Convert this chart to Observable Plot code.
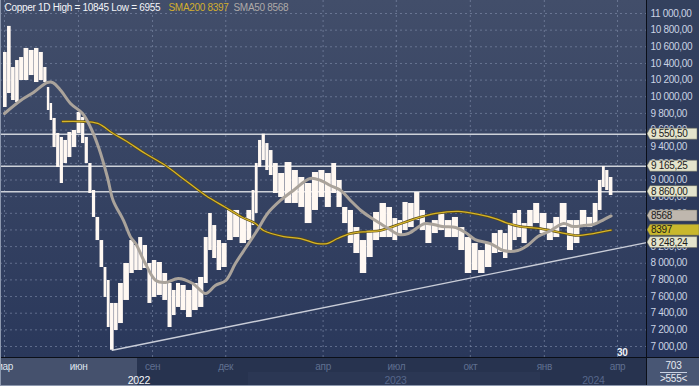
<!DOCTYPE html>
<html><head><meta charset="utf-8">
<script src="https://cdn.jsdelivr.net/npm/d3@7"></script>
<script src="https://cdn.jsdelivr.net/npm/@observablehq/plot@0.6"></script>
<style>
html,body{margin:0;padding:0;background:#2a3656;}
#wrap{position:relative;width:699px;height:386px;overflow:hidden;font-family:"Liberation Sans",Arial,sans-serif;}
.bg{position:absolute;}
#bgPlot{left:0;top:0;width:646px;height:357px;background:linear-gradient(#424e6a,#2a385b);}
#bgRight{left:646px;top:0;width:53px;height:357px;background:linear-gradient(#34415e,#26345a);}
#bgBottom{left:0;top:357px;width:646px;height:29px;background:#27334f;}
#bgYear{left:248px;top:372px;width:292px;height:14px;background:#2b3754;}
#bgHi{left:0;top:358px;width:137px;height:27px;background:#45516d;}
#bgBR{left:647px;top:358px;width:52px;height:28px;background:#485674;}
#sepV{left:646px;top:0;width:1px;height:386px;background:#0b0f18;}
#sepH{left:0;top:357px;width:699px;height:1px;background:#0b0f18;}
#brLine{left:660px;top:372px;width:27px;height:1px;background:#c9d1e2;}
#edgeL{left:0;top:0;width:1px;height:386px;background:#8d98ae;}
#edgeB{left:0;top:385px;width:699px;height:1px;background:#8d98ae;}
#chart{position:absolute;left:0;top:0;}
#chart svg text{letter-spacing:-0.3px;}
</style></head>
<body><div id="wrap">
<div class="bg" id="bgPlot"></div><div class="bg" id="bgRight"></div><div class="bg" id="bgBottom"></div>
<div class="bg" id="bgYear"></div><div class="bg" id="bgHi"></div><div class="bg" id="bgBR"></div>
<div id="chart"></div>
<div class="bg" id="sepV"></div><div class="bg" id="sepH"></div><div class="bg" id="brLine"></div>
<div class="bg" id="edgeL"></div><div class="bg" id="edgeB"></div>
</div>
<script>
// ---- price bars (high / low) ----
const barDates = ["2022-03-02","2022-03-07","2022-03-12","2022-03-17","2022-03-22","2022-03-28","2022-04-04","2022-04-10","2022-04-16","2022-04-21",
"2022-04-25","2022-04-28","2022-05-02","2022-05-07","2022-05-11","2022-05-16","2022-05-21","2022-05-27","2022-06-02","2022-06-07",
"2022-06-11","2022-06-16","2022-06-20","2022-06-25","2022-06-30","2022-07-05","2022-07-08","2022-07-13","2022-07-18","2022-07-23",
"2022-07-31","2022-08-07","2022-08-12","2022-08-17","2022-08-23","2022-08-29","2022-09-03","2022-09-10","2022-09-17","2022-09-23",
"2022-09-28","2022-10-03","2022-10-09","2022-10-17","2022-10-24","2022-11-01","2022-11-07","2022-11-12","2022-11-17","2022-11-23",
"2022-11-29","2022-12-07","2022-12-14","2022-12-23","2022-12-31","2023-01-05","2023-01-08","2023-01-13","2023-01-17","2023-01-22",
"2023-01-26","2023-02-01","2023-02-08","2023-02-17","2023-02-26","2023-03-05","2023-03-14","2023-03-23","2023-03-30","2023-04-08",
"2023-04-15","2023-04-21","2023-04-29","2023-05-05","2023-05-13","2023-05-21","2023-05-30","2023-06-06","2023-06-15","2023-06-23",
"2023-06-30","2023-07-06","2023-07-12","2023-07-20","2023-07-27","2023-08-03","2023-08-10","2023-08-19","2023-08-26","2023-09-04",
"2023-09-13","2023-09-20","2023-09-29","2023-10-07","2023-10-15","2023-10-24","2023-11-01","2023-11-08","2023-11-14","2023-11-20",
"2023-11-26","2023-12-01","2023-12-07","2023-12-15","2023-12-22","2023-12-31","2024-01-09","2024-01-16","2024-01-25","2024-02-03",
"2024-02-10","2024-02-19","2024-02-27","2024-03-05","2024-03-11","2024-03-15","2024-03-19","2024-03-24"];
const barHighs = [10532,10845,10351,10435,10471,10580,10556,10580,10532,10351,
10111,9919,9739,9559,9511,9475,9571,9595,9811,9751,
9511,9198,8874,8550,8273,7949,7793,7517,7517,7757,
7997,8273,8213,8309,8213,7997,8033,8009,7877,7757,
7673,7757,7733,7673,7757,7829,8309,8598,8453,8273,
8237,8634,8634,8550,8634,8874,9198,9475,9550,9438,
9354,9198,9078,9210,9114,9030,8958,9090,9114,9078,
9198,8994,8670,8634,8429,8273,8393,8610,8718,8670,
8537,8513,8730,8718,8850,8634,8477,8513,8598,8513,
8550,8429,8309,8237,8153,8237,8357,8393,8357,8477,
8598,8634,8477,8634,8718,8598,8477,8550,8718,8513,
8513,8634,8550,8718,8994,9162,9114,9030];
const barLows = [9871,10039,9955,9931,10195,10195,10255,10171,10195,10171,
9835,9715,9390,9150,8958,9198,9270,9390,9559,9438,
9198,8838,8550,8273,7949,7589,7228,6955,7192,7276,
7553,7877,7913,7913,7937,7517,7589,7613,7553,7228,
7372,7469,7432,7348,7432,7469,7757,8153,8057,7913,
7949,8273,8309,8237,8273,8453,8598,9150,9234,9114,
9054,8838,8790,8718,8718,8670,8477,8634,8790,8670,
8838,8670,8477,8237,8117,7877,8069,8273,8309,8309,
8273,8333,8393,8429,8513,8393,8237,8357,8393,8309,
8309,8153,7877,7913,7877,7949,8117,8129,8057,8153,
8273,8309,8237,8429,8477,8357,8273,8309,8429,8153,
8237,8429,8429,8477,8634,8910,8874,8814];

// ---- moving averages ----
const sma50Dates = ["2022-03-01","2022-03-21","2022-04-06","2022-04-23","2022-04-30","2022-05-10","2022-05-22","2022-06-06","2022-06-16","2022-06-26",
"2022-07-07","2022-07-14","2022-07-27","2022-08-05","2022-08-11","2022-08-23","2022-09-05","2022-09-17","2022-10-03","2022-10-21",
"2022-11-06","2022-11-18","2022-12-01","2022-12-13","2022-12-26","2023-01-09","2023-01-22","2023-02-07","2023-02-23","2023-03-16",
"2023-03-29","2023-04-10","2023-04-23","2023-05-05","2023-05-18","2023-05-30","2023-06-11","2023-06-21","2023-07-04","2023-07-16",
"2023-08-06","2023-08-27","2023-09-13","2023-09-25","2023-10-07","2023-10-26","2023-11-11","2023-11-29","2023-12-11","2023-12-24",
"2024-01-09","2024-01-25","2024-02-06","2024-02-19","2024-03-02","2024-03-15","2024-03-24"];
const sma50Values = [9799,9955,10051,10171,10171,10075,9919,9799,9631,9390,
9030,8754,8513,8309,8237,7997,7793,7769,7817,7757,
7637,7733,7793,7997,8189,8393,8598,8754,8874,9018,
8994,8934,8874,8754,8634,8550,8477,8417,8345,8357,
8477,8441,8429,8369,8285,8237,8153,8153,8213,8321,
8393,8477,8441,8453,8465,8525,8568];
const sma200Dates = ["2022-05-12","2022-06-03","2022-06-25","2022-07-14","2022-07-29","2022-08-23","2022-09-17","2022-10-12","2022-11-06","2022-12-01",
"2022-12-22","2023-01-07","2023-01-17","2023-02-11","2023-03-04","2023-03-25","2023-04-06","2023-04-19","2023-05-05","2023-05-26",
"2023-06-11","2023-06-30","2023-07-25","2023-08-19","2023-09-16","2023-10-11","2023-11-01","2023-11-14","2023-12-02","2023-12-27",
"2024-01-21","2024-02-11","2024-03-02","2024-03-24"];
const sma200Values = [9703,9703,9679,9559,9475,9318,9174,8994,8814,8670,
8550,8477,8393,8321,8297,8237,8237,8297,8357,8381,
8393,8453,8537,8598,8622,8586,8537,8489,8441,8417,
8369,8333,8357,8397];

// ---- trend line and levels ----
const trendDates = ["2022-07-13","2024-05-07"];
const trendValues = [6955, 8248.24];
const levelValues = [9550.50, 9165.25, 8860.00];
const tagValues = [9550.50, 9165.25, 8860.00, 8568, 8397, 8248.24];
const tagTexts = ["9 550,50","9 165,25","8 860,00","8568","8397","8 248,24"];
const tagFills = ["#e4e4cc","#e4e4cc","#e4e4cc","#bfb7ae","#c9b82c","#e4e4cc"];
const tagWide = [false,false,false,false,true,false];

// ---- axes ----
const yTicks = d3.range(7000, 11001, 200);
const monthTicks = ["2022-03-01","2022-06-01","2022-09-01","2022-12-01","2023-04-01","2023-07-01","2023-10-01","2024-01-01","2024-04-01"];
const monthLabels = ["мар","июн","сен","дек","апр","июл","окт","янв","апр"];
const yearDates = ["2022-08-15","2023-06-30","2024-03-02"];
const yearLabels = ["2022","2023","2024"];
const legendTexts = ["Copper 1D High = 10845 Low = 6955","SMA200 8397","SMA50 8568"];

const P = d3.utcParse("%Y-%m-%d");
const bars = barDates.map((d,i)=>({date:P(d), high:barHighs[i], low:barLows[i]}));
// each bar spans half-way to its neighbours
bars.forEach((b,i)=>{
  const prev = i>0 ? bars[i-1].date : null, next = i<bars.length-1 ? bars[i+1].date : null;
  const half = (a,c)=>new Date((+a + +c)/2);
  b.x1 = prev ? half(prev,b.date) : new Date(+b.date - (+next - +b.date)/2);
  b.x2 = next ? half(b.date,next) : new Date(+b.date + (+b.date - +prev)/2);
});
const sma50 = sma50Dates.map((d,i)=>({date:P(d), v:sma50Values[i]}));
const sma200 = sma200Dates.map((d,i)=>({date:P(d), v:sma200Values[i]}));
const trend = trendDates.map((d,i)=>({date:P(d), v:trendValues[i]}));
const months = monthTicks.map((d,i)=>({date:P(d), label:monthLabels[i], bright:i<2}));
const years = yearDates.map((d,i)=>({date:P(d), label:yearLabels[i], bright:i===0}));

const loc = d3.formatLocale({decimal:",", thousands:" ", grouping:[3], currency:["",""]});
const fmt = loc.format(",.2f");

const FONT = "Liberation Sans, Arial, sans-serif";
const grid = {stroke:"#8a97b4", strokeOpacity:0.55, strokeDasharray:"2,3", strokeWidth:1};

const chart = Plot.plot({
  width: 699, height: 386,
  marginTop: 0, marginLeft: 0, marginRight: 53, marginBottom: 29,
  style: {background:"transparent", fontFamily: FONT, overflow:"visible"},
  x: {type:"utc", domain:[P("2022-02-24"), P("2024-05-07")], axis:null},
  y: {domain:[6867.9, 11156.2], axis:null},
  marks: [
    Plot.ruleY(yTicks, {y: d=>d, ...grid}),
    Plot.ruleX(months, {x:"date", ...grid}),
    Plot.line(trend, {x:"date", y:"v", stroke:"#c9cdd8", strokeWidth:1.4}),
    Plot.ruleY(levelValues, {y:d=>d, stroke:"#cdd1d9", strokeWidth:1.5}),
    Plot.rect(bars, {x1:"x1", x2:"x2", y1:"low", y2:"high", fill:"#fff8f2", insetLeft:0.2, insetRight:0.2}),
    Plot.line(sma200, {x:"date", y:"v", stroke:"#5a4a14", strokeWidth:2.6, curve:"catmull-rom"}),
    Plot.line(sma200, {x:"date", y:"v", stroke:"#d6b52a", strokeWidth:1.3, curve:"catmull-rom"}),
    Plot.line(sma50, {x:"date", y:"v", stroke:"#aaa39b", strokeWidth:3, curve:"catmull-rom"}),
    // right axis labels
    Plot.text(yTicks, {y:d=>d, text:d=>fmt(d), frameAnchor:"right", dx:4, textAnchor:"start", fill:"#cbd3e4", fontSize:10}),
    // legend
    Plot.text([legendTexts[0]], {text:d=>d, frameAnchor:"top-left", dx:4, dy:3, lineAnchor:"top", textAnchor:"start", fill:"#f2f4f8", fontSize:10}),
    Plot.text([legendTexts[1]], {text:d=>d, frameAnchor:"top-left", dx:168, dy:3, lineAnchor:"top", textAnchor:"start", fill:"#d2ae2e", fontSize:10}),
    Plot.text([legendTexts[2]], {text:d=>d, frameAnchor:"top-left", dx:233, dy:3, lineAnchor:"top", textAnchor:"start", fill:"#aeaaa8", fontSize:10}),
    // bottom month / year labels
    Plot.text(months, {x:"date", text:"label", frameAnchor:"bottom", dy:9, lineAnchor:"middle", fill:d=>d.bright?"#dfe4ee":"#5f6f90", fontSize:10}),
    Plot.text(years, {x:"date", text:"label", frameAnchor:"bottom", dy:23, lineAnchor:"middle", textAnchor:d=>d.bright?"end":"middle", fill:d=>d.bright?"#f4f6fa":"#56668a", fontSize:10.5}),
    // "30" marker
    Plot.text(["30"], {x:()=>P("2024-04-07"), text:d=>d, frameAnchor:"bottom", dy:-5, lineAnchor:"middle", fill:"#eef1f6", fontSize:10, fontWeight:"bold"}),
    // bottom-right box
    Plot.text(["703"], {text:d=>d, frameAnchor:"bottom-right", dx:27, dy:8, lineAnchor:"middle", textAnchor:"middle", fill:"#e6eaf2", fontSize:10}),
    Plot.text([">555<"], {text:d=>d, frameAnchor:"bottom-right", dx:27, dy:21, lineAnchor:"middle", textAnchor:"middle", fill:"#e6eaf2", fontSize:10})
  ]
});
document.getElementById("chart").appendChild(chart);

// price tags on the right axis, placed through the plot's own y scale
const ys = chart.scale("y");
const fy = ys.apply ? (v=>ys.apply(v)) : d3.scaleLinear(ys.domain, ys.range);
const svg = d3.select(chart);
const g = svg.append("g").attr("text-anchor","start");
tagValues.forEach((v,i)=>{
  const y = fy(v), h = 5.5, x0 = 647, xa = 650, x1 = tagWide[i] ? 699 : 697;
  g.append("path").attr("d", `M${x0},${y} L${xa},${y-h} L${x1},${y-h} L${x1},${y+h} L${xa},${y+h} Z`)
    .attr("fill", tagFills[i]).attr("stroke","#6b6b5a").attr("stroke-width",0.5);
  g.append("text").attr("x", 651).attr("y", y).attr("dy","0.35em").attr("text-anchor","start")
    .attr("font-size",10).attr("font-family",FONT).attr("fill","#1b1b1b").text(tagTexts[i]);
});
</script>
</body></html>
